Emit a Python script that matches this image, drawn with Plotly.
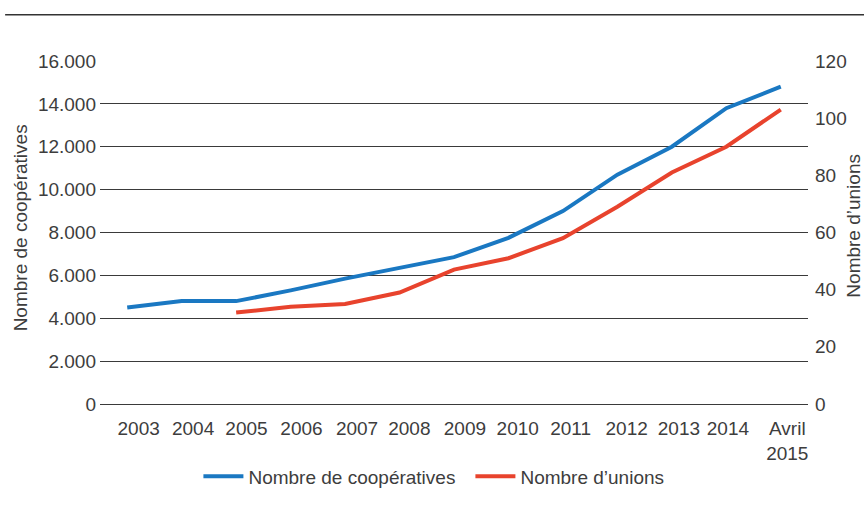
import plotly.graph_objects as go

# Number of agricultural cooperatives and unions per year
years = ["2003", "2004", "2005", "2006", "2007", "2008", "2009",
         "2010", "2011", "2012", "2013", "2014", "Avril<br>2015"]
cooperatives = [4500, 4800, 4800, 5300, 5850, 6350, 6850,
                7750, 9000, 10700, 12000, 13800, 14800]
unions = [None, None, 32, 34, 35, 39, 47, 51, 58, 69, 81, 90, 103]

left_ticks = [0, 2000, 4000, 6000, 8000, 10000, 12000, 14000, 16000]
right_ticks = [0, 20, 40, 60, 80, 100, 120]

# small horizontal nudges (in category units) for the year labels
label_nudge = [0.21, 0.21, 0.19, 0.20, 0.22, 0.18, 0.20,
               0.17, 0.14, 0.17, 0.13, 0.03, 0.12]

BLUE = "#1a78c2"
RED = "#e8432d"
TEXT = "#3d3d3d"
GRID = "#3a3a3a"
FONT = "Liberation Sans, Arial, sans-serif"
FS = 19

x_pos = list(range(len(years)))

fig = go.Figure()
fig.add_trace(go.Scatter(
    x=x_pos, y=cooperatives, name="Nombre de coopératives",
    mode="lines", line=dict(color=BLUE, width=4), yaxis="y",
))
fig.add_trace(go.Scatter(
    x=x_pos, y=unions, name="Nombre d\u2019unions",
    mode="lines", line=dict(color=RED, width=4), yaxis="y2",
))

fig.update_layout(
    width=864, height=505,
    margin=dict(l=100, r=56, t=61, b=101, autoexpand=False),
    paper_bgcolor="white", plot_bgcolor="white",
    font=dict(family=FONT, size=FS, color=TEXT),
    separators=",.",
    showlegend=True,
    legend=dict(
        orientation="h", x=0.139, xanchor="left", y=-0.156, yanchor="top",
        font=dict(size=FS, color=TEXT), itemwidth=40, traceorder="normal",
        entrywidth=217, entrywidthmode="pixels",
    ),
    xaxis=dict(
        range=[-0.5, len(years) - 0.5],
        tickmode="array",
        tickvals=[i + d for i, d in zip(x_pos, label_nudge)],
        ticktext=years,
        showgrid=False, zeroline=False, showline=False, ticks="",
        tickfont=dict(size=FS, color=TEXT), automargin=False,
        ticklabelstandoff=11,
    ),
    yaxis=dict(
        range=[0, 16000], tickmode="array", tickvals=left_ticks,
        tickformat=",d", showgrid=True, gridcolor=GRID, gridwidth=1,
        zeroline=True, zerolinecolor=GRID, zerolinewidth=1,
        showline=False, ticks="", tickfont=dict(size=FS, color=TEXT),
        automargin=False, ticklabelstandoff=3,
    ),
    yaxis2=dict(
        range=[0, 120], tickmode="array", tickvals=right_ticks,
        overlaying="y", side="right", showgrid=False, zeroline=False,
        showline=False, ticks="", tickfont=dict(size=FS, color=TEXT),
        automargin=False, ticklabelstandoff=6,
    ),
    annotations=[
        dict(text="Nombre de coopératives", textangle=-90,
             xref="paper", yref="paper", x=-0.113, y=0.515,
             xanchor="center", yanchor="middle", showarrow=False,
             font=dict(size=FS, color=TEXT)),
        dict(text="Nombre d\u2019unions", textangle=-90,
             xref="paper", yref="paper", x=1.065, y=0.52,
             xanchor="center", yanchor="middle", showarrow=False,
             font=dict(size=FS, color=TEXT)),
    ],
    shapes=[
        dict(type="line", xref="paper", yref="paper",
             x0=-0.134, x1=1.08, y0=1.135, y1=1.135,
             line=dict(color="#333333", width=1.5)),
    ],
)

fig.write_html("out.html")
